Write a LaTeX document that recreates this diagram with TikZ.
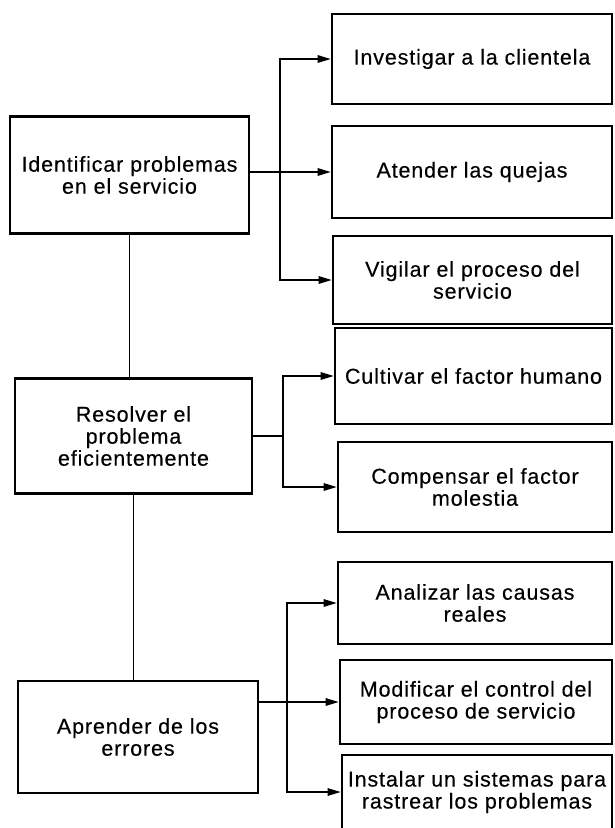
\documentclass[tikz,border=0pt]{standalone}
\usepackage{fontspec}
\setmainfont{Liberation Sans}[LetterSpace=4,FakeBold=0.3]
\usetikzlibrary{arrows.meta}
\tikzset{
  box/.style={draw, line width=2.6pt, align=center, inner sep=0pt,
    font=\fontsize{21.5}{22}\selectfont},
  link/.style={line width=1.3pt},
  arr/.style={line width=1.3pt, -{Triangle[length=13pt,width=7.5pt]}},
}
\newcommand{\bx}[6]{\node[box, minimum width=#4pt, minimum height=#5pt] (#1) at (#2pt,-#3pt) {#6};}
\begin{document}
\begin{tikzpicture}[x=1pt,y=1pt]
\useasboundingbox (0,0) rectangle (614,-828);
% left column
\bx{a1}{129.5}{175}{239}{117}{Identificar problemas\\en el servicio}
\bx{a2}{133.5}{436}{237}{115}{Resolver el\\problema\\eficientemente}
\bx{a3}{138}{737}{240}{112}{Aprender de los\\errores}
% right column
\bx{b1}{472}{59}{280}{90}{Investigar a la clientela}
\bx{b2}{472}{172}{280}{92}{Atender las quejas}
\bx{b3}{472.5}{280}{279}{88}{Vigilar el proceso del\\servicio}
\bx{b4}{473.5}{376}{277}{96}{Cultivar el factor humano}
\bx{b5}{475}{487}{274}{90}{Compensar el factor\\molestia}
\bx{b6}{475}{603}{274}{82}{Analizar las causas\\reales}
\bx{b7}{476}{702}{272}{84}{Modificar el control del\\proceso de servicio}
\bx{b8}{477}{792}{270}{74}{Instalar un sistemas para\\rastrear los problemas}
% junctions
\coordinate (j1) at (280,-172);
\coordinate (j2) at (283,-436);
\coordinate (j3) at (287,-702);
% vertical links
\draw[link] (a1.south) -- (a2.north -| a1.south);
\draw[link] (a2.south) -- (a3.north -| a2.south);
% group 1
\draw[link] (a1.east |- j1) -- (j1);
\draw[arr] (j1) -- (b2.west);
\draw[arr] (j1) |- (b1.west);
\draw[arr] (j1) |- (b3.west);
% group 2
\draw[link] (a2.east |- j2) -- (j2);
\draw[arr] (j2) |- (b4.west);
\draw[arr] (j2) |- (b5.west);
% group 3
\draw[link] (a3.east |- j3) -- (j3);
\draw[arr] (j3) -- (b7.west);
\draw[arr] (j3) |- (b6.west);
\draw[arr] (j3) |- (b8.west);
\end{tikzpicture}
\end{document}
